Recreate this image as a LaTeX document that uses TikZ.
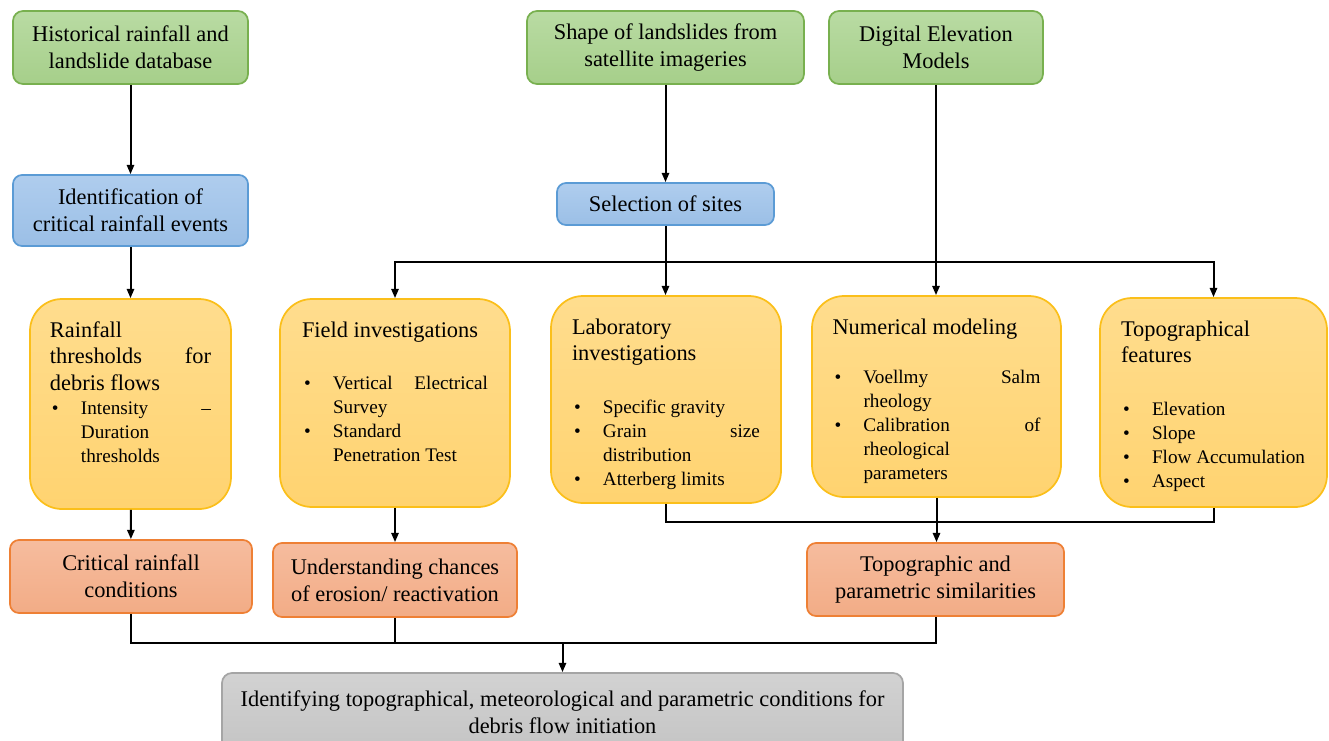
\documentclass[tikz,border=0pt]{standalone}
\usepackage{fontspec}
\setmainfont{Liberation Serif}
\usetikzlibrary{arrows.meta}
\newdimen\px \px=0.75pt
\definecolor{gtop}{HTML}{B9DBA3}\definecolor{gbot}{HTML}{A6CF8A}\definecolor{gdraw}{HTML}{78B04F}
\definecolor{btop}{HTML}{AFCDEE}\definecolor{bbot}{HTML}{9BBFE6}\definecolor{bdraw}{HTML}{5B9BD5}
\definecolor{ytop}{HTML}{FFDD8E}\definecolor{ybot}{HTML}{FFD370}\definecolor{ydraw}{HTML}{FBBF1A}
\definecolor{rtop}{HTML}{F6BC9E}\definecolor{rbot}{HTML}{F2AC86}\definecolor{rdraw}{HTML}{EE8035}
\definecolor{ktop}{HTML}{D2D2D2}\definecolor{kbot}{HTML}{C4C4C4}\definecolor{kdraw}{HTML}{A5A5A5}
\newcommand\mainfs{\fontsize{16.8}{20}\selectfont}
\newcommand\bulfs{\fontsize{14.4}{18}\selectfont}
\newcommand\bul[1]{\makebox[31\px][l]{\hspace{2\px}\textbullet}#1}
\newcommand\ind[1]{\hspace*{31\px}#1}
\newcommand\ybox[3]{\parbox[c][#1][t]{#2}{\mainfs\vspace*{14.5pt}\strut #3}}
\tikzset{
  box/.style={draw, line width=1.3pt, align=center, font=\mainfs, inner sep=0pt},
  greenbox/.style={box, draw=gdraw, top color=gtop, bottom color=gbot, rounded corners=10\px},
  bluebox/.style={box, draw=bdraw, top color=btop, bottom color=bbot, rounded corners=9\px},
  yellowbox/.style={box, draw=ydraw, top color=ytop, bottom color=ybot, rounded corners=32\px},
  redbox/.style={box, draw=rdraw, top color=rtop, bottom color=rbot, rounded corners=9\px},
  graybox/.style={box, draw=kdraw, top color=ktop, bottom color=kbot, rounded corners=10\px},
  con/.style={line width=1.5pt, draw=black},
  arr/.style={con, -{Triangle[length=7pt,width=5.5pt]}},
}
\begin{document}
\begin{tikzpicture}[x=0.75pt,y=-0.75pt]
\useasboundingbox (0,0) rectangle (1329,740);
% top row
\node[greenbox, minimum width=235\px, minimum height=73\px] (g1) at (130.5,47.5) {Historical rainfall and\\landslide database};
\node[greenbox, minimum width=277\px, minimum height=73\px] (g2) at (665.5,47.5) {Shape of landslides from\\satellite imageries};
\node[greenbox, minimum width=214\px, minimum height=73\px] (g3) at (936,47.5) {Digital Elevation\\Models};
% blue
\node[bluebox, minimum width=235\px, minimum height=71\px] (b1) at (130.5,210.5) {Identification of\\critical rainfall events};
\node[bluebox, minimum width=217\px, minimum height=42\px] (sel) at (665.5,204) {Selection of sites};
% yellow
\node[yellowbox, inner xsep=20\px] (y1) at (130.5,404) {\ybox{210\px}{161\px}{Rainfall\par
thresholds\hfill for\par
debris flows\par
\bulfs\bul{Intensity\hfill --}\par
\ind{Duration}\par
\ind{thresholds}\par}};
\node[yellowbox, inner xsep=22\px] (y2) at (395,403) {\ybox{208\px}{186\px}{Field investigations\par
\bulfs\vspace{21pt}
\bul{Vertical\hfill Electrical}\par
\ind{Survey}\par
\bul{Standard}\par
\ind{Penetration Test}\par}};
\node[yellowbox, inner xsep=21\px] (y3) at (666,399.5) {\ybox{207\px}{188\px}{Laboratory\par
investigations\par
\bulfs\vspace{21.5pt}
\bul{Specific gravity}\par
\bul{Grain\hfill size}\par
\ind{distribution}\par
\bul{Atterberg limits}\par}};
\node[yellowbox, inner xsep=20.5\px] (y4) at (936.5,396.5) {\ybox{201\px}{208\px}{Numerical modeling\par
\bulfs\vspace{19pt}
\bul{Voellmy\hfill Salm}\par
\ind{rheology}\par
\bul{Calibration\hfill of}\par
\ind{rheological}\par
\ind{parameters}\par}};
\node[yellowbox, inner xsep=21\px] (y5) at (1213.5,402.5) {\ybox{209\px}{185\px}{Topographical\par
features\par
\bulfs\vspace{21.5pt}
\bul{Elevation}\par
\bul{Slope}\par
\bul{Flow Accumulation}\par
\bul{Aspect}\par}};
% red
\node[redbox, minimum width=242\px, minimum height=73\px] (r1) at (131,576.5) {Critical rainfall\\conditions};
\node[redbox, minimum width=244\px, minimum height=74\px] (r2) at (395,580) {Understanding chances\\of erosion/ reactivation};
\node[redbox, minimum width=257\px, minimum height=73\px] (r3) at (935.5,579.5) {Topographic and\\parametric similarities};
% gray
\node[graybox, minimum width=681\px, minimum height=79\px] (fin) at (562.5,712.5) {Identifying topographical, meteorological and parametric conditions for\\debris flow initiation};
% connectors
\coordinate (hj) at (665.5,262);
\coordinate (mj) at (936,522);
\coordinate (bj) at (562.5,643);
\draw[arr] (g1) -- (b1);
\draw[arr] (b1) -- (y1);
\draw[arr] (g2) -- (sel);
\draw[arr] (sel.south) -- (sel.south |- y3.north);
\draw[arr] (hj) -| (y2.north);
\draw[arr] (hj) -| (y5.north);
\draw[arr] (g3.south) -- (g3.south |- y4.north);
\draw[arr] (y1) -- (r1);
\draw[arr] (y2) -- (r2);
\draw[con] (y3.south) |- (mj) -| (y5.south);
\draw[arr] (y4.south) -- (y4.south |- r3.north);
\draw[con] (r1.south) |- (bj) -| (r3.south);
\draw[con] (r2.south) -- (r2.south |- bj);
\draw[arr] (bj) -- (bj |- fin.north);
\end{tikzpicture}
\end{document}
